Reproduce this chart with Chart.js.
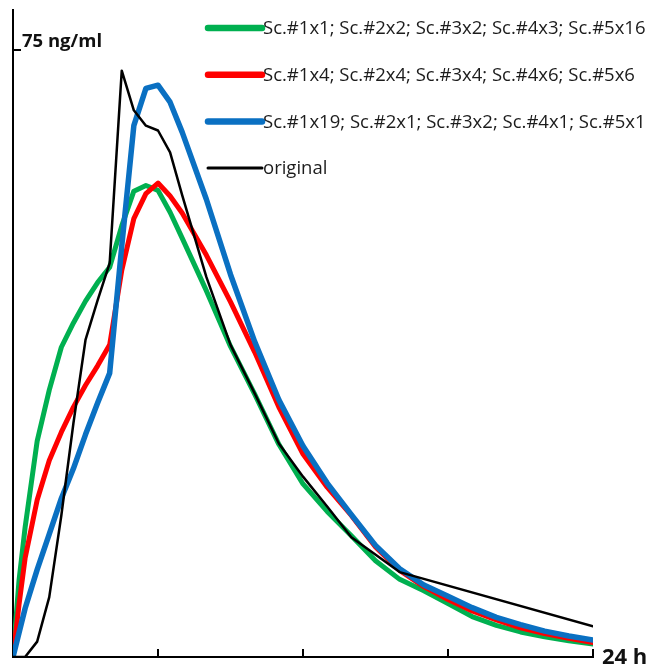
<!DOCTYPE html>
<html>
<head>
<meta charset="utf-8">
<script src="https://cdn.jsdelivr.net/npm/chart.js@4/dist/chart.umd.min.js"></script>
<style>
  html, body { margin: 0; padding: 0; background: #fff; }
  #wrap { width: 660px; height: 666px; }
</style>
</head>
<body>
<div id="wrap"><canvas id="pk" width="660" height="666"></canvas></div>
<script>
// Sampling times (h)
const modelHours = [0, 0.25, 0.5, 1, 1.5, 2, 2.5, 3, 3.5, 4, 4.5, 5, 5.5, 6, 6.5, 7, 8, 9, 10, 11, 12, 13, 14, 15, 16, 17, 18, 19, 20, 21, 22, 23, 24];
const originalHours = [0, 0.5, 1, 1.5, 2, 2.5, 3, 3.5, 4, 4.5, 5, 5.5, 6, 6.5, 7, 8, 9, 10, 11, 12, 13, 14, 16, 24];

// Concentrations (ng/ml)
const scenarioA = [0, 9.5, 16.0, 26.7, 33.0, 38.3, 41.3, 44.0, 46.3, 48.2, 53.3, 57.6, 58.3, 57.7, 55.0, 51.8, 45.3, 38.4, 32.5, 26.3, 21.4, 18.0, 15.0, 11.9, 9.6, 8.2, 6.6, 5.0, 3.9, 3.1, 2.5, 2.0, 1.6];
const scenarioB = [0, 6.5, 12.2, 19.4, 24.3, 27.8, 30.9, 33.6, 36.0, 38.6, 47.8, 54.2, 57.3, 58.6, 57.0, 54.9, 49.7, 43.9, 37.7, 30.9, 25.1, 21.0, 17.5, 13.6, 10.7, 8.7, 7.1, 5.7, 4.6, 3.6, 2.9, 2.3, 1.8];
const scenarioC = [0, 3.0, 6.0, 10.8, 15.2, 19.6, 23.3, 27.5, 31.4, 35.1, 50.8, 65.7, 70.3, 70.7, 68.6, 64.9, 56.6, 47.3, 39.0, 31.8, 26.1, 21.5, 17.6, 13.8, 10.9, 8.9, 7.5, 6.1, 4.9, 4.0, 3.2, 2.6, 2.1];
const original = [0, 0, 1.9, 7.4, 17.5, 28.9, 39.2, 44.1, 48.7, 72.5, 67.6, 65.7, 65.1, 62.4, 57.1, 47.0, 38.6, 32.6, 26.4, 22.3, 18.6, 14.8, 10.5, 3.8];

// Series names
const seriesNames = [
  'Sc.#1x1; Sc.#2x2; Sc.#3x2; Sc.#4x3; Sc.#5x16',
  'Sc.#1x4; Sc.#2x4; Sc.#3x4; Sc.#4x6; Sc.#5x6',
  'Sc.#1x19; Sc.#2x1; Sc.#3x2; Sc.#4x1; Sc.#5x1',
  'original'
];

// Axis captions
const yMarkValue = 75;
const yMarkLabel = '75 ng/ml';
const xEndLabel = '24 h';

const pairs = (xs, ys) => xs.map((x, i) => ({ x: x, y: ys[i] }));

// Keep the axes flush with the plot area (no label overhang padding)
function flush(scale) {
  scale.paddingTop = 0;
  scale.paddingBottom = 0;
  scale.paddingLeft = 0;
  scale.paddingRight = 0;
}

// Legend drawn as stacked rows of line swatches over the plot
const lineLegend = {
  id: 'lineLegend',
  afterDatasetsDraw(chart) {
    const ctx = chart.ctx;
    const x0 = 205, y0 = 28, gap = 46.7, swatch = 57;
    ctx.save();
    ctx.font = '18.5px "Open Sans", "Liberation Sans", sans-serif';
    ctx.textBaseline = 'middle';
    ctx.textAlign = 'left';
    chart.data.datasets.forEach((ds, i) => {
      const y = y0 + i * gap;
      ctx.beginPath();
      ctx.strokeStyle = ds.borderColor;
      ctx.lineWidth = ds.borderWidth >= 4 ? 6.5 : 3;
      ctx.lineCap = 'round';
      ctx.moveTo(x0 + 3, y);
      ctx.lineTo(x0 + swatch, y);
      ctx.stroke();
      ctx.fillStyle = '#1c1c1c';
      ctx.fillText(ds.label, x0 + swatch + 1, y + 1);
    });
    ctx.restore();
  }
};

// Caption at the right end of the time axis
const timeCaption = {
  id: 'timeCaption',
  afterDraw(chart) {
    const xs = chart.scales.x;
    const ctx = chart.ctx;
    ctx.save();
    ctx.font = 'bold 22px "Open Sans", "Liberation Sans", sans-serif';
    ctx.fillStyle = '#111';
    ctx.textAlign = 'left';
    ctx.textBaseline = 'alphabetic';
    ctx.fillText(xEndLabel, xs.getPixelForValue(24) + 9, xs.top + 7);
    ctx.restore();
  }
};

new Chart(document.getElementById('pk'), {
  type: 'line',
  data: {
    datasets: [
      { label: seriesNames[0], data: pairs(modelHours, scenarioA), borderColor: '#00b050', borderWidth: 5, order: 3 },
      { label: seriesNames[1], data: pairs(modelHours, scenarioB), borderColor: '#ff0000', borderWidth: 5, order: 2 },
      { label: seriesNames[2], data: pairs(modelHours, scenarioC), borderColor: '#0a70c2', borderWidth: 5.5, order: 1 },
      { label: seriesNames[3], data: pairs(originalHours, original), borderColor: '#000000', borderWidth: 2.5, order: 0 }
    ]
  },
  options: {
    responsive: false,
    devicePixelRatio: 1,
    animation: false,
    layout: { padding: { left: 0, right: 67, top: 10, bottom: 0 } },
    elements: {
      point: { radius: 0 },
      line: { tension: 0, borderJoinStyle: 'round', borderCapStyle: 'round', fill: false }
    },
    plugins: {
      legend: { display: false },
      tooltip: { enabled: false }
    },
    scales: {
      x: {
        type: 'linear',
        min: 0,
        max: 24,
        afterFit(scale) { scale.height = 9; flush(scale); },
        ticks: { display: false, stepSize: 6 },
        grid: { drawOnChartArea: false, color: '#000', lineWidth: 2, tickLength: -8 },
        border: { color: '#000', width: 2 }
      },
      y: {
        type: 'linear',
        min: 0,
        max: 80,
        afterFit(scale) { scale.width = 13; flush(scale); },
        afterBuildTicks(scale) { scale.ticks = [{ value: yMarkValue }]; },
        ticks: {
          mirror: true,
          padding: 9,
          labelOffset: -9,
          color: '#111',
          font: { family: '"Open Sans", "Liberation Sans", sans-serif', size: 18.5, weight: 'bold' },
          callback: () => yMarkLabel
        },
        grid: { drawOnChartArea: false, color: '#000', lineWidth: 2, tickLength: -8 },
        border: { color: '#000', width: 2 }
      }
    }
  },
  plugins: [lineLegend, timeCaption]
});
</script>
</body>
</html>
